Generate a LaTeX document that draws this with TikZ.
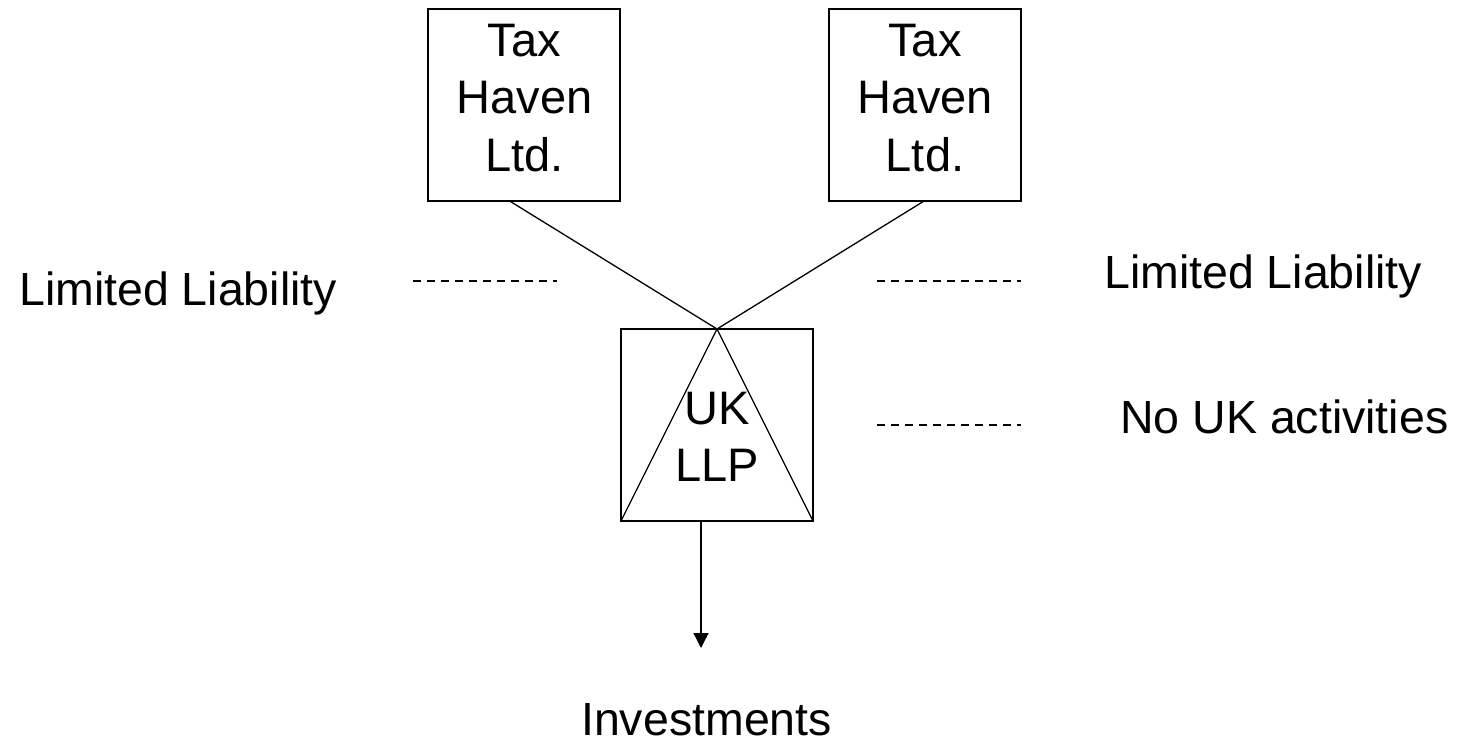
\documentclass[tikz,border=0pt]{standalone}
\usepackage{fontspec}
\setmainfont{Liberation Sans}
\usetikzlibrary{arrows.meta,calc}
\begin{document}
\begin{tikzpicture}[x=1pt,y=-1pt,
  boxnode/.style={draw=black,line width=1.5pt,minimum width=192pt,minimum height=192pt,inner sep=0pt,outer sep=0pt,anchor=north west},
  boxtext/.style={align=center,inner sep=0pt,font=\fontsize{47}{57.5}\selectfont,anchor=south},
  label/.style={inner sep=0pt,font=\fontsize{46.5}{56}\selectfont,anchor=base west},
  link/.style={line width=1.3pt},
  guide/.style={line width=1.4pt,dash pattern=on 7.5pt off 6.5pt}
]
\useasboundingbox (0,0) rectangle (1463,744);

\node[boxnode] (lbox) at (428,9) {};
\node[boxnode] (rbox) at (829,9) {};
\node[boxnode] (uk) at (621,329) {};

\node[boxtext] (ltext) at (524.5,172) {Tax\\Haven\\Ltd.};
\node[boxtext] (rtext) at (925,172) {Tax\\Haven\\Ltd.};
\node[boxtext] (uktext) at (717,482) {UK\\LLP};

\draw[link] ($(lbox.south west)!0.425!(lbox.south east)$) -- (uk.north);
\draw[link] ($(rbox.south west)!0.495!(rbox.south east)$) -- (uk.north);
\draw[link] (uk.north) -- (uk.south west);
\draw[link] (uk.north) -- (uk.south east);

\coordinate (arrend) at (701,648);
\draw[link,-{Triangle[length=15pt,width=15pt]}] (uk.south -| arrend) -- (arrend);

\node[label] (ll1) at (19,305) {Limited Liability};
\node[label] (ll2) at (1104,288) {Limited Liability};
\node[label] (nouk) at (1120,433) {No UK activities};
\node[label] (inv) at (581,735) {Investments};

\coordinate (d1a) at (413,281); \coordinate (d1b) at (557,281);
\coordinate (d2a) at (877,281); \coordinate (d2b) at (1021,281);
\coordinate (d3a) at (877,425); \coordinate (d3b) at (1021,425);
\draw[guide] (d1a) -- (d1b);
\draw[guide] (d2a) -- (d2b);
\draw[guide] (d3a) -- (d3b);
\end{tikzpicture}
\end{document}
